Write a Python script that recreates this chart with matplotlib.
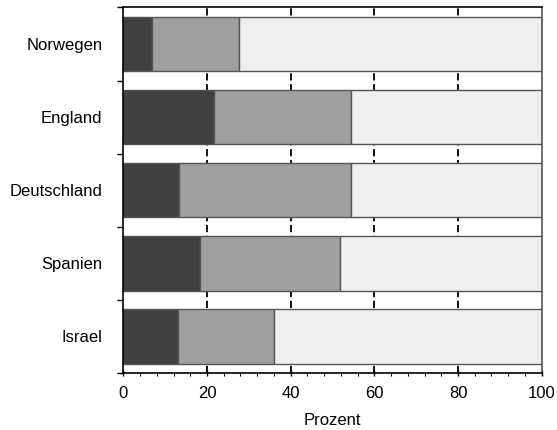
import matplotlib
matplotlib.use("Agg")
import matplotlib.pyplot as plt
import numpy as np
from matplotlib.ticker import MultipleLocator, FixedLocator

plt.rcParams["font.family"] = ["Liberation Sans", "DejaVu Sans"]
plt.rcParams["font.size"] = 12

countries = ["Norwegen", "England", "Deutschland", "Spanien", "Israel"]
seg_dark = [6.8, 21.7, 13.4, 18.3, 13.0]
seg_mid = [20.9, 32.7, 41.0, 33.4, 22.9]
seg_light = [72.3, 45.6, 45.6, 48.3, 64.1]

colors = ["#404040", "#a0a0a0", "#efefef"]

fig = plt.figure(figsize=(5.57, 4.30), dpi=100)
ax = fig.add_axes([0.2214, 0.1333, 0.7511, 0.8493])

y = np.arange(len(countries))
left = np.zeros(len(countries))
for vals, c in zip([seg_dark, seg_mid, seg_light], colors):
    ax.barh(y, vals, left=left, height=0.75, color=c, edgecolor="#555555",
            linewidth=1, zorder=2)
    left += np.array(vals)

ax.set_xlim(0, 100)
ax.set_ylim(len(countries) - 0.5, -0.5)

# dashed grid lines behind the bars
for gx in [20, 40, 60, 80]:
    ax.axvline(gx, color="black", linestyle=(0, (4, 2)), linewidth=1.3, zorder=1)

ax.xaxis.set_major_locator(MultipleLocator(20))
ax.xaxis.set_minor_locator(MultipleLocator(4))
ax.tick_params(axis="x", which="major", length=5, width=1, direction="inout", pad=7)
ax.tick_params(axis="x", which="minor", length=2.5, width=0.8, direction="out")

ax.yaxis.set_major_locator(FixedLocator(np.arange(-0.5, len(countries), 1.0)))
ax.yaxis.set_major_formatter(plt.NullFormatter())
ax.yaxis.set_minor_locator(FixedLocator(y))
ax.set_yticklabels(countries, minor=True)
ax.tick_params(axis="y", which="major", length=4, width=1, direction="out")
ax.tick_params(axis="y", which="minor", length=0, pad=15)

for s in ax.spines.values():
    s.set_linewidth(1.2)
    s.set_zorder(3)
ax.spines["right"].set_color("#555555")

ax.set_xlabel("Prozent", labelpad=9)

fig.savefig("out.png", dpi=100)
